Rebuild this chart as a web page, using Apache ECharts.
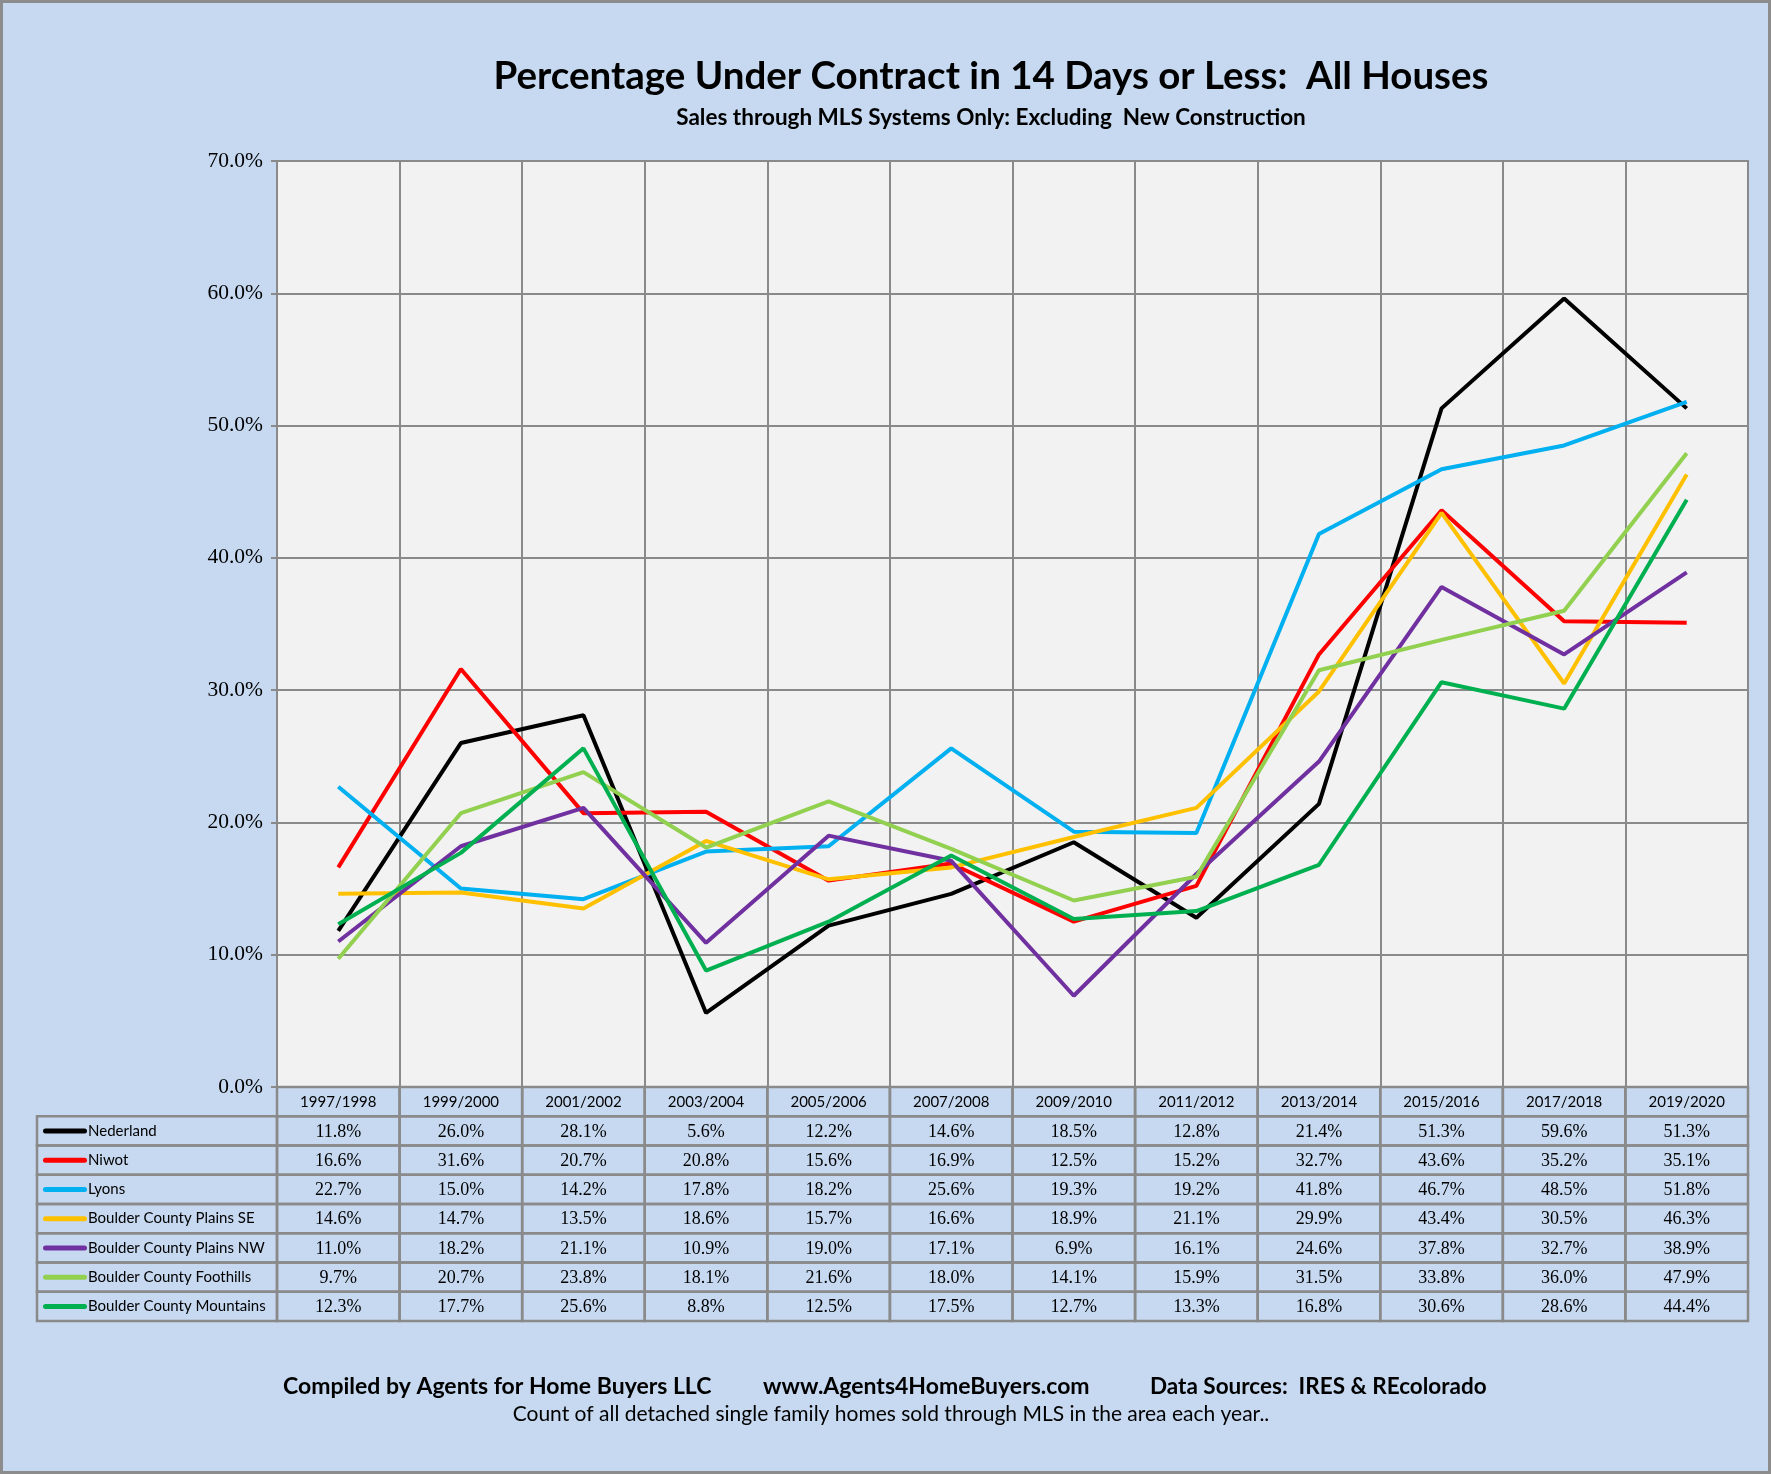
<!DOCTYPE html>
<html>
<head>
<meta charset="utf-8">
<title>Percentage Under Contract in 14 Days or Less</title>
<script src="https://cdn.jsdelivr.net/npm/echarts@6/dist/echarts.min.js"></script>
<style>
  html, body { margin: 0; padding: 0; background: #C6D9F1; }
  #main { width: 1771px; height: 1474px; }
</style>
</head>
<body>
<div id="main"></div>
<script>
var categories = ['1997/1998', '1999/2000', '2001/2002', '2003/2004', '2005/2006', '2007/2008',
    '2009/2010', '2011/2012', '2013/2014', '2015/2016', '2017/2018', '2019/2020'];

var names = ['Nederland', 'Niwot', 'Lyons', 'Boulder County Plains SE', 'Boulder County Plains NW',
    'Boulder County Foothills', 'Boulder County Mountains'];

var nederland = [11.8, 26.0, 28.1, 5.6, 12.2, 14.6, 18.5, 12.8, 21.4, 51.3, 59.6, 51.3];
var niwot = [16.6, 31.6, 20.7, 20.8, 15.6, 16.9, 12.5, 15.2, 32.7, 43.6, 35.2, 35.1];
var lyons = [22.7, 15.0, 14.2, 17.8, 18.2, 25.6, 19.3, 19.2, 41.8, 46.7, 48.5, 51.8];
var plainsSE = [14.6, 14.7, 13.5, 18.6, 15.7, 16.6, 18.9, 21.1, 29.9, 43.4, 30.5, 46.3];
var plainsNW = [11.0, 18.2, 21.1, 10.9, 19.0, 17.1, 6.9, 16.1, 24.6, 37.8, 32.7, 38.9];
var foothills = [9.7, 20.7, 23.8, 18.1, 21.6, 18.0, 14.1, 15.9, 31.5, 33.8, 36.0, 47.9];
var mountains = [12.3, 17.7, 25.6, 8.8, 12.5, 17.5, 12.7, 13.3, 16.8, 30.6, 28.6, 44.4];

var yTicks = [0, 10, 20, 30, 40, 50, 60, 70];

var values = [nederland, niwot, lyons, plainsSE, plainsNW, foothills, mountains];
var colors = ['#000000', '#FF0000', '#00B0F0', '#FFC000', '#7030A0', '#92D050', '#00B050'];

var gridColor = '#8A8A8A';
var tableLeft = 37;      // left edge of the legend column
var plotLeft = 277;

// rich styles for the legend keys in the table
var rich = { n: { fontFamily: 'Lato', fontSize: 15, color: '#000', padding: [0, 0, 0, 1] } };
for (var i in colors) {
    rich['l' + i] = { width: 44, height: 5, backgroundColor: colors[i], borderRadius: 2.5 };
}

var lineSeries = [];
for (var i in names) {
    lineSeries.push({
        name: names[i],
        type: 'line',
        xAxisIndex: 0,
        yAxisIndex: 0,
        data: values[i],
        symbol: 'none',
        lineStyle: { width: 4, color: colors[i] },
        itemStyle: { color: colors[i] },
        z: 3
    });
}

// table cells: row 0 is the header row, rows 1..7 are the series
var cells = [];
for (var r = 0; r <= names.length; r++) {
    for (var c = 0; c < categories.length; c++) {
        cells.push([c, r]);
    }
}

var tableSeries = {
    type: 'custom',
    xAxisIndex: 1,
    yAxisIndex: 1,
    data: cells,
    silent: true,
    renderItem: function (params, api) {
        var c = api.value(0), r = api.value(1);
        var p = api.coord([c, r]);
        var s = api.size([1, 1]);
        var x0 = p[0] - s[0] / 2, y0 = p[1] - s[1] / 2;
        var txt, font;
        if (r === 0) {
            txt = categories[c];
            font = '15px Lato';
        } else {
            txt = values[r - 1][c].toFixed(1) + '%';
            font = '18px "Liberation Serif"';
        }
        var children = [
            {
                type: 'rect',
                shape: { x: x0, y: y0, width: s[0], height: s[1] },
                style: { fill: null, stroke: gridColor, lineWidth: 2.5 }
            },
            {
                type: 'text',
                style: { text: txt, x: p[0], y: p[1] + 1, align: 'center', verticalAlign: 'middle', font: font, fill: '#000' }
            }
        ];
        if (c === 0 && r > 0) {
            children.push({
                type: 'rect',
                shape: { x: tableLeft, y: y0, width: x0 - tableLeft, height: s[1] },
                style: { fill: null, stroke: gridColor, lineWidth: 2.5 }
            });
        }
        return { type: 'group', children: children };
    },
    z: 2
};

var option = {
    backgroundColor: '#C6D9F1',
    animation: false,
    title: [
        {
            text: 'Percentage Under Contract in 14 Days or Less:  All Houses',
            subtext: 'Sales through MLS Systems Only: Excluding  New Construction',
            left: 986,
            top: 52,
            textAlign: 'center',
            itemGap: 10,
            textStyle: { fontFamily: 'Lato', fontWeight: 'bold', fontSize: 38.5, color: '#000' },
            subtextStyle: { fontFamily: 'Lato', fontWeight: 'bold', fontSize: 22.5, color: '#000' }
        },
        {
            text: 'Compiled by Agents for Home Buyers LLC',
            left: 278, top: 1370,
            textStyle: { fontFamily: 'Lato', fontWeight: 'bold', fontSize: 23, color: '#000' }
        },
        {
            text: 'www.Agents4HomeBuyers.com',
            left: 758, top: 1370,
            textStyle: { fontFamily: 'Lato', fontWeight: 'bold', fontSize: 23, color: '#000' }
        },
        {
            text: 'Data Sources:  IRES & REcolorado',
            left: 1145, top: 1370,
            textStyle: { fontFamily: 'Lato', fontWeight: 'bold', fontSize: 22.5, color: '#000' }
        },
        {
            text: 'Count of all detached single family homes sold through MLS in the area each year..',
            left: 886, top: 1399, textAlign: 'center',
            textStyle: { fontFamily: 'Lato', fontWeight: 'normal', fontSize: 21, color: '#000' }
        }
    ],
    graphic: [
        {
            type: 'rect',
            shape: { x: 1.5, y: 1.5, width: 1768, height: 1471 },
            style: { fill: null, stroke: '#8C8C8C', lineWidth: 3 },
            silent: true
        }
    ],
    grid: [
        {
            left: plotLeft, right: 23, top: 161, height: 926,
            show: true, backgroundColor: '#F2F2F2', borderColor: gridColor, borderWidth: 2
        },
        {
            left: plotLeft, right: 23, top: 1087, height: 234
        }
    ],
    xAxis: [
        {
            type: 'category',
            gridIndex: 0,
            data: categories,
            boundaryGap: true,
            axisLine: { lineStyle: { color: gridColor, width: 2 } },
            axisTick: { show: false },
            axisLabel: { show: false },
            splitLine: { show: true, interval: 0, lineStyle: { color: gridColor, width: 2 } }
        },
        {
            type: 'category',
            gridIndex: 1,
            data: categories,
            boundaryGap: true,
            axisLine: { show: false },
            axisTick: { show: false },
            axisLabel: { show: false }
        }
    ],
    yAxis: [
        {
            type: 'value',
            gridIndex: 0,
            min: yTicks[0],
            max: yTicks[yTicks.length - 1],
            interval: 10,
            axisLine: { show: true, lineStyle: { color: gridColor, width: 2 } },
            axisTick: { show: true, length: 6, lineStyle: { color: gridColor, width: 2 } },
            axisLabel: {
                margin: 14,
                fontFamily: 'Liberation Serif',
                fontSize: 21.5,
                color: '#000',
                formatter: function (v) { return v.toFixed(1) + '%'; }
            },
            splitLine: { show: true, lineStyle: { color: gridColor, width: 2 } }
        },
        {
            type: 'category',
            gridIndex: 1,
            inverse: true,
            data: [''].concat(names),
            axisLine: { show: false },
            axisTick: { show: false },
            axisLabel: {
                align: 'left',
                margin: plotLeft - 43,
                formatter: function (v, idx) {
                    if (idx === 0) return '';
                    return '{l' + (idx - 1) + '|}{n|' + v + '}';
                },
                rich: rich
            }
        }
    ],
    series: lineSeries.concat([tableSeries])
};

echarts.init(document.getElementById('main')).setOption(option);
</script>
</body>
</html>
